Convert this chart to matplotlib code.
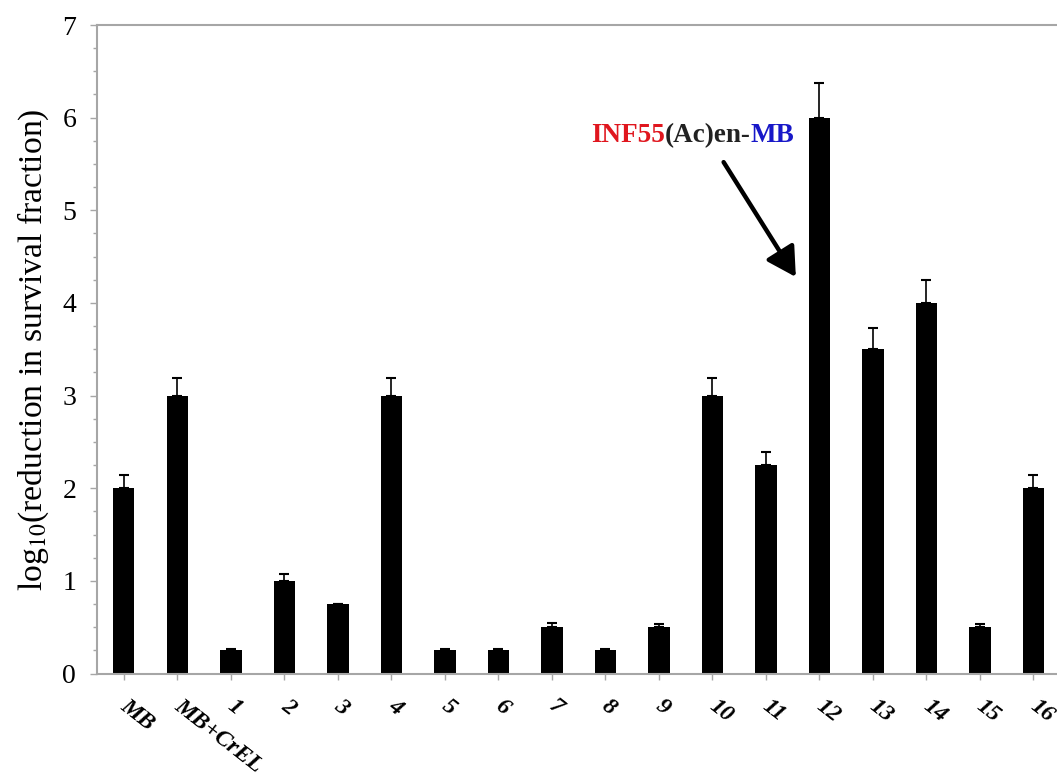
import numpy as np
import matplotlib
matplotlib.use("Agg")
import matplotlib.pyplot as plt
import matplotlib.transforms as mtransforms
from matplotlib.ticker import MultipleLocator

# === Data ===
labels = ["MB", "MB+CrEL", "1", "2", "3", "4", "5", "6", "7", "8",
          "9", "10", "11", "12", "13", "14", "15", "16"]
values = [2.0, 3.0, 0.25, 1.0, 0.75, 3.0, 0.25, 0.25, 0.5, 0.25,
          0.5, 3.0, 2.25, 6.0, 3.5, 4.0, 0.5, 2.0]
errors = [0.14, 0.19, 0.01, 0.07, 0.0, 0.19, 0.01, 0.01, 0.05, 0.01,
          0.03, 0.19, 0.14, 0.37, 0.23, 0.25, 0.03, 0.14]

plt.rcParams["font.family"] = ["Liberation Serif", "DejaVu Serif"]
plt.rcParams["mathtext.fontset"] = "stix"

axis_grey = "#a6a6a6"

fig = plt.figure(figsize=(10.57, 7.77), dpi=100)
ax = fig.add_axes([0.0918, 0.1332, 0.9112, 0.8346])

x = np.arange(len(labels))
ax.bar(x, values, width=0.4, color="black", zorder=2)
ax.errorbar(x, values, yerr=[np.zeros(len(errors)), errors], fmt="none",
            ecolor="black", elinewidth=1.2, capsize=3.8, capthick=1.5, zorder=3)

ax.set_xlim(-0.5, 17.5)
ax.set_ylim(0, 7)
ax.yaxis.set_major_locator(MultipleLocator(1))
ax.yaxis.set_minor_locator(MultipleLocator(0.25))

for side in ["left", "bottom", "top"]:
    ax.spines[side].set_color(axis_grey)
    ax.spines[side].set_linewidth(1.5)
ax.spines["right"].set_visible(False)

ax.tick_params(axis="y", which="major", direction="out", length=5, width=1,
               color=axis_grey, labelsize=20, pad=10)
ax.tick_params(axis="y", which="minor", direction="out", length=3, width=1,
               color=axis_grey)
ax.tick_params(axis="x", direction="out", length=4, width=1, color=axis_grey, pad=12)

ax.set_xticks(x)
ax.set_xticklabels(labels, rotation=-38, ha="left", va="top",
                   rotation_mode="anchor", fontsize=17,
                   fontweight="bold", fontstyle="italic")
# nudge rotated labels to the right so they start at the tick
shift = mtransforms.ScaledTranslation(4 / 72, 0, fig.dpi_scale_trans)
for lab in ax.get_xticklabels():
    lab.set_transform(lab.get_transform() + shift)

ax.set_ylabel(r"log$_{10}$(reduction in survival fraction)", fontsize=24.2, labelpad=8)

# annotation arrow pointing at bar 12
ax.annotate("", xy=(12.56, 4.28), xytext=(11.21, 5.52),
            arrowprops=dict(arrowstyle="-|>,head_length=0.8,head_width=0.45",
                            color="black", lw=3.2, shrinkA=0, shrinkB=0,
                            mutation_scale=22))

# multi-coloured label
fig.canvas.draw()
renderer = fig.canvas.get_renderer()
parts = [("INF55", "#e0161e"), ("(Ac)en-", "#222222"), ("MB", "#1818c8")]
xpos, ypos = 8.73, 5.74
for txt, col in parts:
    t = ax.text(xpos, ypos, txt, color=col, fontsize=19.5, fontweight="bold",
                ha="left", va="baseline")
    bb = t.get_window_extent(renderer=renderer)
    xpos = ax.transData.inverted().transform((bb.x1, 0))[0]

fig.savefig("out.png", dpi=100)
